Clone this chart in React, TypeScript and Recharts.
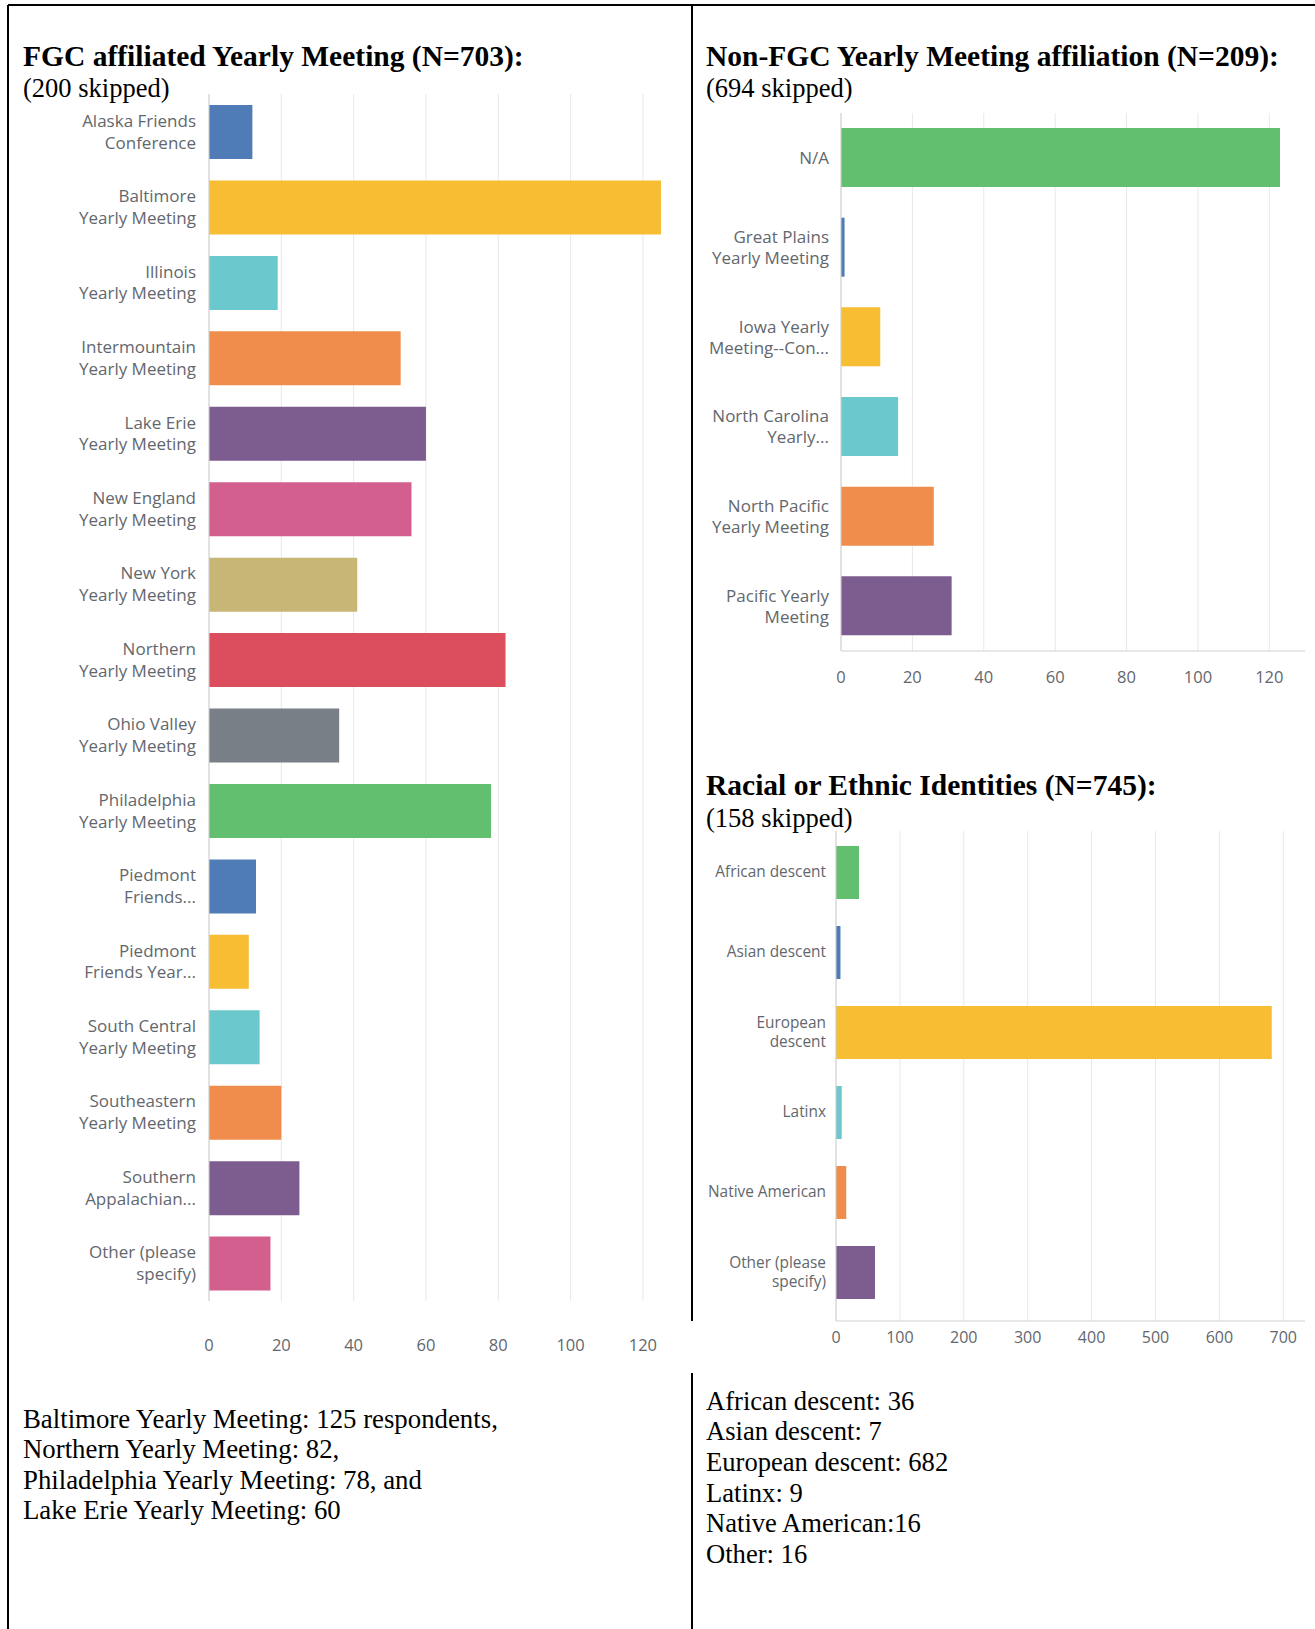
import { BarChart, Bar, XAxis, YAxis, CartesianGrid, Cell } from 'recharts'

// FGC affiliated yearly meetings
const fgcCategories = [
  'Alaska Friends\nConference',
  'Baltimore\nYearly Meeting',
  'Illinois\nYearly Meeting',
  'Intermountain\nYearly Meeting',
  'Lake Erie\nYearly Meeting',
  'New England\nYearly Meeting',
  'New York\nYearly Meeting',
  'Northern\nYearly Meeting',
  'Ohio Valley\nYearly Meeting',
  'Philadelphia\nYearly Meeting',
  'Piedmont\nFriends...',
  'Piedmont\nFriends Year...',
  'South Central\nYearly Meeting',
  'Southeastern\nYearly Meeting',
  'Southern\nAppalachian...',
  'Other (please\nspecify)',
]
const fgcValues = [12, 125, 19, 53, 60, 56, 41, 82, 36, 78, 13, 11, 14, 20, 25, 17]
const fgcTicks = [0, 20, 40, 60, 80, 100, 120]

// Non-FGC yearly meetings
const nonFgcCategories = [
  'N/A',
  'Great Plains\nYearly Meeting',
  'Iowa Yearly\nMeeting--Con...',
  'North Carolina\nYearly...',
  'North Pacific\nYearly Meeting',
  'Pacific Yearly\nMeeting',
]
const nonFgcValues = [123, 1, 11, 16, 26, 31]
const nonFgcTicks = [0, 20, 40, 60, 80, 100, 120]

// racial / ethnic identities
const raceCategories = [
  'African descent',
  'Asian descent',
  'European\ndescent',
  'Latinx',
  'Native American',
  'Other (please\nspecify)',
]
const raceValues = [36, 7, 682, 9, 16, 61]
const raceTicks = [0, 100, 200, 300, 400, 500, 600, 700]

const fgcNotes = [
  'Baltimore Yearly Meeting: 125 respondents,',
  'Northern Yearly Meeting: 82,',
  'Philadelphia Yearly Meeting: 78, and',
  'Lake Erie Yearly Meeting: 60',
]
const raceNotes = [
  'African descent: 36',
  'Asian descent: 7',
  'European descent: 682',
  'Latinx: 9',
  'Native American:16',
  'Other: 16',
]

const BLUE = '#4f7cb6'
const YELLOW = '#f7bd33'
const TEAL = '#6bc8cd'
const ORANGE = '#f08c4c'
const PURPLE = '#7d5c8f'
const PINK = '#d35f8e'
const TAN = '#c8b677'
const RED = '#dc4d5d'
const GRAY = '#787f86'
const GREEN = '#62bf6f'

const fgcColors = [BLUE, YELLOW, TEAL, ORANGE, PURPLE, PINK, TAN, RED, GRAY, GREEN, BLUE, YELLOW, TEAL, ORANGE, PURPLE, PINK]
const sixColors = [GREEN, BLUE, YELLOW, TEAL, ORANGE, PURPLE]

const LABEL = '#63676d'
const SANS = '"Open Sans", sans-serif'
const SERIF = '"Liberation Serif", "Times New Roman", serif'

function MultiLineTick(props: any) {
  const { x, y, payload, fontSize, lineHeight } = props
  const lines = String(payload.value).split('\n')
  const start = -((lines.length - 1) * lineHeight) / 2
  return (
    <text x={x} y={y} textAnchor="end" fill={LABEL} fontSize={fontSize} fontFamily={SANS}>
      {lines.map((l: string, i: number) => (
        <tspan key={i} x={x} y={y + start + i * lineHeight} dy="0.35em">
          {l}
        </tspan>
      ))}
    </text>
  )
}

function HBar(props: any) {
  const {
    categories, values, colors, ticks, domain, width, height, margin, yWidth,
    xHeight, barSize, labelSize, lineHeight, labelGap, tickSize, tickGap, axisLine, padding,
  } = props
  const data = categories.map((name: string, i: number) => ({ name, value: values[i] }))
  return (
    <BarChart width={width} height={height} layout="vertical" data={data} margin={margin}>
      {/* syncWithTicks: no extra line at the domain ends */}
      <CartesianGrid horizontal={false} stroke="#e8e8e8" syncWithTicks />
      <XAxis
        type="number"
        domain={domain}
        ticks={ticks}
        height={xHeight}
        axisLine={axisLine ? { stroke: '#d0d0d0' } : false}
        tickLine={false}
        tickSize={0}
        tickMargin={tickGap}
        tick={{ fill: LABEL, fontSize: tickSize, fontFamily: SANS }}
      />
      <YAxis
        type="category"
        dataKey="name"
        width={yWidth}
        padding={padding}
        axisLine={{ stroke: '#d0d0d0' }}
        tickLine={false}
        tickSize={0}
        tickMargin={labelGap}
        interval={0}
        tick={(p: any) => <MultiLineTick {...p} fontSize={labelSize} lineHeight={lineHeight} />}
      />
      <Bar dataKey="value" barSize={barSize} isAnimationActive={false}>
        {data.map((_: any, i: number) => (
          <Cell key={i} fill={colors[i]} />
        ))}
      </Bar>
    </BarChart>
  )
}

export default function App() {
  return (
    <div style={{ position: 'absolute', left: 0, top: 0, width: 1315, height: 1629, background: '#fff', overflow: 'hidden' }}>
      <svg width={1315} height={1629} style={{ position: 'absolute', left: 0, top: 0 }}>
        <line x1={8} y1={5} x2={1315} y2={5} stroke="#000" strokeWidth={2} />
        <line x1={8} y1={5} x2={8} y2={1629} stroke="#000" strokeWidth={2} />
        <line x1={692} y1={5} x2={692} y2={1321} stroke="#000" strokeWidth={2} />
        <line x1={692} y1={1373} x2={692} y2={1629} stroke="#000" strokeWidth={2} />

        <text x={23} y={65.5} fontFamily={SERIF} fontWeight="bold" fontSize={29.5}>
          FGC affiliated Yearly Meeting (N=703):
        </text>
        <text x={23} y={97} fontFamily={SERIF} fontSize={26.5}>(200 skipped)</text>

        <text x={706} y={65.5} fontFamily={SERIF} fontWeight="bold" fontSize={29.5}>
          Non-FGC Yearly Meeting affiliation (N=209):
        </text>
        <text x={706} y={97} fontFamily={SERIF} fontSize={26.5}>(694 skipped)</text>

        <text x={706} y={794.5} fontFamily={SERIF} fontWeight="bold" fontSize={29.5}>
          Racial or Ethnic Identities (N=745):
        </text>
        <text x={706} y={827} fontFamily={SERIF} fontSize={26.5}>(158 skipped)</text>

        {fgcNotes.map((t, i) => (
          <text key={i} x={23} y={1428 + i * 30.4} fontFamily={SERIF} fontSize={26.8}>{t}</text>
        ))}
        {raceNotes.map((t, i) => (
          <text key={i} x={706} y={1409.5 + i * 30.7} fontFamily={SERIF} fontSize={26.6}>{t}</text>
        ))}
      </svg>

      <div style={{ position: 'absolute', left: 0, top: 0 }}>
        <HBar
          categories={fgcCategories}
          values={fgcValues}
          colors={fgcColors}
          ticks={fgcTicks}
          domain={[0, 125]}
          width={692}
          height={1400}
          margin={{ top: 94, right: 31, left: 0, bottom: 39 }}
          yWidth={209}
          xHeight={60}
          barSize={54}
          labelSize={17}
          lineHeight={21.8}
          labelGap={13}
          tickSize={16.5}
          tickGap={38}
          axisLine={false}
          padding={{ top: 0, bottom: 0 }}
        />
      </div>

      <div style={{ position: 'absolute', left: 692, top: 0 }}>
        <HBar
          categories={nonFgcCategories}
          values={nonFgcValues}
          colors={sixColors}
          ticks={nonFgcTicks}
          domain={[0, 130]}
          width={623}
          height={720}
          margin={{ top: 113, right: 10, left: 0, bottom: 19 }}
          yWidth={149}
          xHeight={50}
          barSize={59}
          labelSize={17}
          lineHeight={21}
          labelGap={12}
          tickSize={16.5}
          tickGap={20}
          axisLine={true}
          padding={{ top: 0, bottom: 0 }}
        />
      </div>

      <div style={{ position: 'absolute', left: 692, top: 760 }}>
        <HBar
          categories={raceCategories}
          values={raceValues}
          colors={sixColors}
          ticks={raceTicks}
          domain={[0, 734]}
          width={623}
          height={640}
          margin={{ top: 71, right: 10, left: 0, bottom: 29 }}
          yWidth={144}
          xHeight={50}
          barSize={53}
          labelSize={15.4}
          lineHeight={18.7}
          labelGap={10}
          tickSize={16}
          tickGap={11}
          axisLine={true}
          padding={{ top: 1, bottom: 9 }}
        />
      </div>
    </div>
  )
}
